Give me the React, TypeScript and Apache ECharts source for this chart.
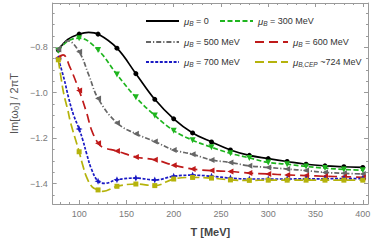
import React, { useEffect, useRef } from 'react';
import * as echarts from 'echarts';

// Temperatures at which markers are drawn (MeV)
const markerT = [78, 100, 120, 140, 160, 180, 200, 220, 240, 260, 280, 300, 320, 340, 360, 380, 400];

// Curves: [T (MeV), Im[w0]/2piT]
const curveMu0: [number, number][] = [
  [78, -0.812], [88, -0.765], [100, -0.742], [110, -0.734], [120, -0.742], [140, -0.804],
  [160, -0.916], [180, -1.029], [200, -1.115], [220, -1.177], [240, -1.217], [260, -1.252],
  [280, -1.276], [300, -1.29], [320, -1.303], [340, -1.315], [360, -1.322], [380, -1.326],
  [400, -1.329],
];
const curveMu300: [number, number][] = [
  [78, -0.815], [88, -0.773], [100, -0.76], [120, -0.812], [140, -0.92], [160, -1.02],
  [180, -1.1], [200, -1.167], [220, -1.209], [240, -1.24], [260, -1.267], [280, -1.287],
  [300, -1.307], [320, -1.315], [340, -1.325], [360, -1.332], [380, -1.338], [400, -1.341],
];
const curveMu500: [number, number][] = [
  [78, -0.81], [88, -0.772], [100, -0.82], [110, -0.92], [120, -1.025], [140, -1.133],
  [160, -1.181], [180, -1.215], [200, -1.252], [220, -1.271], [240, -1.296], [260, -1.307],
  [280, -1.322], [300, -1.329], [320, -1.336], [340, -1.343], [360, -1.351], [380, -1.355],
  [400, -1.358],
];
const curveMu600: [number, number][] = [
  [78, -0.845], [83, -0.833], [90, -0.885], [100, -0.99], [108, -1.09], [113, -1.163],
  [120, -1.222], [125, -1.24], [140, -1.257], [160, -1.283], [180, -1.295], [200, -1.319],
  [220, -1.336], [240, -1.343], [260, -1.347], [280, -1.354], [300, -1.358], [320, -1.362],
  [340, -1.365], [360, -1.368], [380, -1.37], [400, -1.373],
];
const curveMu700: [number, number][] = [
  [78, -0.851], [84, -0.938], [89, -1.025], [94, -1.097], [100, -1.16], [104, -1.21],
  [108, -1.27], [113, -1.336], [120, -1.39], [127, -1.399], [140, -1.383], [160, -1.376],
  [180, -1.384], [200, -1.368], [220, -1.363], [240, -1.368], [260, -1.376], [280, -1.38],
  [300, -1.38], [320, -1.38], [340, -1.379], [360, -1.379], [380, -1.378], [400, -1.378],
];
const curveMuCEP: [number, number][] = [
  [78, -0.855], [81, -0.938], [84, -1.01], [88, -1.076], [91, -1.133], [100, -1.26],
  [103, -1.307], [108, -1.373], [114, -1.416], [120, -1.428], [125, -1.434], [140, -1.412],
  [160, -1.402], [180, -1.409], [200, -1.38], [220, -1.373], [240, -1.376], [260, -1.384],
  [280, -1.386], [300, -1.385], [320, -1.385], [340, -1.385], [360, -1.385], [380, -1.385],
  [400, -1.385],
];

const legendText: Record<string, string> = {
  mu0: '{m|μ}{s|B}{t| = 0}',
  mu300: '{m|μ}{s|B}{t| = 300 MeV}',
  mu500: '{m|μ}{s|B}{t| = 500 MeV}',
  mu600: '{m|μ}{s|B}{t| = 600 MeV}',
  mu700: '{m|μ}{s|B}{t| = 700 MeV}',
  muCEP: '{m|μ}{s|B,CEP}{t| ~724 MeV}',
};

const FONT = 'Liberation Sans, Arial, sans-serif';

function toData(points: [number, number][]) {
  return points.map(([t, v]) =>
    markerT.includes(t) ? [t, v] : { value: [t, v], symbol: 'none' }
  );
}

const star = 'path://M0,-10L3,-3L10,0L3,3L0,10L-3,3L-10,0L-3,-3Z';

export default function App() {
  const ref = useRef<HTMLDivElement>(null);
  useEffect(() => {
    if (!ref.current) return;
    const chart = echarts.init(ref.current, null, { renderer: 'svg' });
    const frame = '#9a9a9a';
    const tickLabel = { color: '#7a7a7a', fontSize: 9, fontFamily: FONT };
    const xCommon = {
      type: 'value' as const,
      min: 72,
      max: 405.5,
      splitNumber: 5,
      splitLine: { show: false },
      axisLine: { show: true, lineStyle: { color: frame, width: 1 } },
      axisTick: { show: true, inside: true, length: 4, lineStyle: { color: frame } },
      minorTick: { show: true, splitNumber: 5, length: 2, lineStyle: { color: frame } },
    };
    const yCommon = {
      type: 'value' as const,
      min: -1.49,
      max: -0.605,
      splitNumber: 5,
      splitLine: { show: false },
      axisLine: { show: true, lineStyle: { color: frame, width: 1 } },
      axisTick: { show: true, inside: true, length: 4, lineStyle: { color: frame } },
      minorTick: { show: true, splitNumber: 4, length: 2, lineStyle: { color: frame } },
    };
    const mk = (
      name: string,
      pts: [number, number][],
      color: string,
      type: any,
      symbol: string,
      rotate: number,
      size: number
    ) => ({
      name,
      type: 'line',
      data: toData(pts),
      smooth: 0.4,
      symbol,
      symbolRotate: rotate,
      symbolSize: size,
      showAllSymbol: true,
      itemStyle: { color },
      lineStyle: { color, width: 1.7, type },
      emphasis: { disabled: true },
    });
    const legendBase = {
      orient: 'horizontal' as const,
      itemWidth: 33,
      itemHeight: 12,
      itemStyle: { opacity: 0 },
      formatter: (n: string) => legendText[n],
      textStyle: {
        color: '#333',
        fontFamily: FONT,
        fontSize: 9,
        rich: {
          m: { fontSize: 9.5, fontStyle: 'italic', color: '#333', fontFamily: FONT },
          s: { fontSize: 6.5, fontStyle: 'italic', color: '#333', fontFamily: FONT, padding: [4, 0, 0, 0] },
          t: { fontSize: 9, color: '#333', fontFamily: FONT },
        },
      },
    };
    const legendPos: [string, number, number][] = [
      ['mu0', 140, 11],
      ['mu300', 214, 11],
      ['mu500', 140, 32],
      ['mu600', 249, 32],
      ['mu700', 140, 52],
      ['muCEP', 249, 52],
    ];
    chart.setOption({
      animation: false,
      backgroundColor: '#fff',
      grid: { left: 39, right: 6, top: 3, bottom: 35 },
      legend: legendPos.map(([n, l, t]) => ({ ...legendBase, left: l, top: t, data: [n] })),
      xAxis: [
        {
          ...xCommon,
          position: 'bottom',
          name: 'T [MeV]',
          nameLocation: 'middle',
          nameGap: 22,
          nameTextStyle: { color: '#444', fontSize: 11, fontWeight: 'bold', fontFamily: FONT },
          axisLabel: { ...tickLabel, margin: 5, showMinLabel: false, showMaxLabel: false },
        },
        { ...xCommon, position: 'top', axisLabel: { show: false } },
      ],
      yAxis: [
        {
          ...yCommon,
          position: 'left',
          name: 'Im[ω₀] / 2πT',
          nameLocation: 'middle',
          nameGap: 25,
          nameTextStyle: { color: '#555', fontSize: 11, fontFamily: FONT },
          axisLabel: {
            ...tickLabel,
            margin: 5,
            showMinLabel: false,
            showMaxLabel: false,
            formatter: (v: number) => v.toFixed(1).replace('-', '−'),
          },
        },
        { ...yCommon, position: 'right', axisLabel: { show: false } },
      ],
      series: [
        mk('mu0', curveMu0, '#000000', 'solid', 'circle', 0, 5),
        mk('mu300', curveMu300, '#1fb51f', [5, 2.5], 'triangle', 180, 6),
        mk('mu500', curveMu500, '#666666', [5, 2, 1.2, 2], 'triangle', 90, 6),
        mk('mu600', curveMu600, '#bf1a1a', [9, 5], 'triangle', 90, 6),
        mk('mu700', curveMu700, '#1a1ac4', [3, 1.6], star, 0, 7),
        mk('muCEP', curveMuCEP, '#b5b30c', [9, 4], 'rect', 0, 5),
      ],
    });
    return () => chart.dispose();
  }, []);
  return (
    <div
      ref={ref}
      style={{ position: 'fixed', left: 0, top: 0, width: 374, height: 242, background: '#fff' }}
    />
  );
}
